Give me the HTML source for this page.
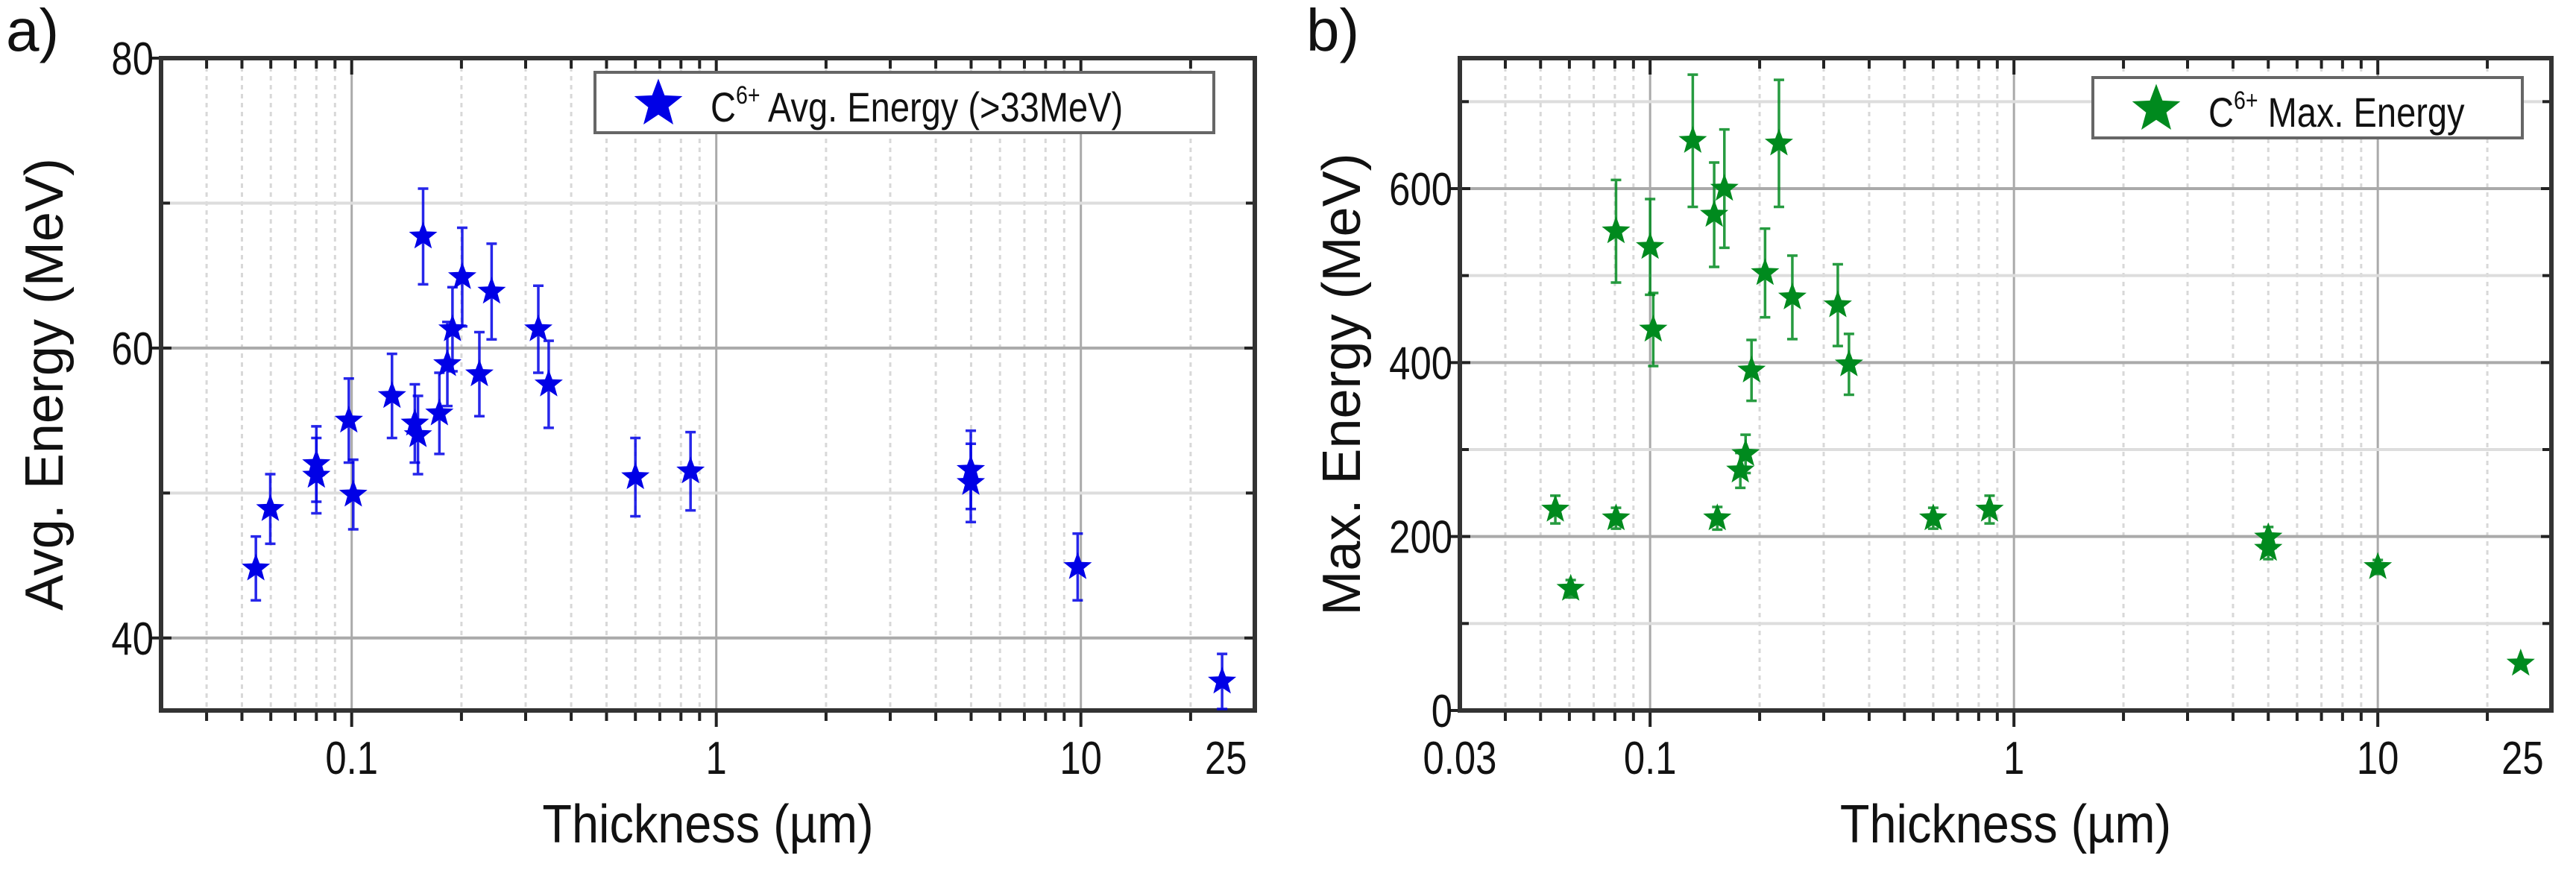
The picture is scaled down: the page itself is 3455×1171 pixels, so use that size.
<!DOCTYPE html>
<html><head><meta charset="utf-8">
<style>
html,body{margin:0;padding:0;background:#fff;}
svg{display:block;}
text{font-family:"Liberation Sans",Arial,sans-serif;fill:#111;}
</style></head>
<body>
<svg id="fig" width="3455" height="1171" viewBox="0 0 3455 1171" xmlns="http://www.w3.org/2000/svg"></svg>
<script>
// ---- Panel a data ----
const thickA = [0.0546,0.0598,0.08,0.08,0.0982,0.101,0.129,0.149,0.152,0.157,0.174,0.183,0.189,0.201,0.224,0.242,0.325,0.347,0.60,0.85,4.99,4.99,9.8,24.4];
const avgEnergy = [44.8,48.9,52.0,51.2,55.0,49.9,56.7,54.8,54.0,67.7,55.5,58.9,61.3,64.9,58.2,63.9,61.3,57.5,51.1,51.5,51.6,50.7,44.9,37.0];
const avgErr = [2.2,2.4,2.6,2.6,2.9,2.4,2.9,2.7,2.7,3.3,2.8,2.9,2.9,3.4,2.9,3.3,3.0,3.0,2.7,2.7,2.7,2.7,2.3,1.9];
const yTicksA = [40,60,80];
const yMinorA = [50,70];
// ---- Panel b data ----
const thickB = [0.0549,0.0605,0.0806,0.0806,0.1,0.102,0.131,0.150,0.153,0.160,0.177,0.183,0.190,0.207,0.226,0.246,0.328,0.352,0.60,0.857,5.0,5.0,10,24.7];
const maxEnergy = [231,140,551,221,533,438,655,570,221,600,276,295,391,503,652,475,466,398,221,231,199,186,165,54];
const maxErr = [16,10,59,12,55,42,76,60,13,68,20,22,35,51,73,48,47,35,12,16,12,12,8,4];
const yTicksB = [0,200,400,600];
const yMinorB = [100,300,500,700];
const xTicksA = [0.1,1,10,25];
const xTicksB = [0.03,0.1,1,10,25];

const NS="http://www.w3.org/2000/svg";
const svg=document.getElementById('fig');
function el(tag,attrs,parent){const e=document.createElementNS(NS,tag);for(const k in attrs)e.setAttribute(k,attrs[k]);(parent||svg).appendChild(e);return e;}
function starPath(cx,cy,r){let d='';for(let i=0;i<10;i++){const rr=i%2?r*0.42:r;const a=-Math.PI/2+i*Math.PI/5;d+=(i?'L':'M')+(cx+rr*Math.cos(a)).toFixed(1)+' '+(cy+rr*Math.sin(a)).toFixed(1);}return d+'Z';}

function panel(o){
  const g=el('g',{});
  
  
  const L=o.L,R=o.R,T=o.T,B=o.B;
  const xs=v=>L+(Math.log10(v)-Math.log10(0.03))/(Math.log10(30)-Math.log10(0.03))*(R-L);
  const ys=v=>B-(v-o.ymin)/(o.ymax-o.ymin)*(B-T);
  for(let dec=-2;dec<=1;dec++){for(let m=1;m<=9;m++){const v=m*Math.pow(10,dec);if(v<=0.03||v>=30)continue;const x=xs(v);
    const major=(m===1);
    const ln=el('line',{x1:x,x2:x,y1:T,y2:B,stroke:major?'#aaa':'#d8d8d8','stroke-width':3,'stroke-dasharray':major?'none':'6 6'},g);
    
    
    const tl=major?22:14;
    el('line',{x1:x,x2:x,y1:B,y2:B+tl,stroke:'#222','stroke-width':4},g);
    el('line',{x1:x,x2:x,y1:T,y2:T+tl,stroke:'#222','stroke-width':4},g);
  }}
  o.yMinor.forEach(v=>{const y=ys(v);const ln=el('line',{x1:L,x2:R,y1:y,y2:y,stroke:'#ddd','stroke-width':4},g);
    
    el('line',{x1:L,x2:L+12,y1:y,y2:y,stroke:'#222','stroke-width':4},g);el('line',{x1:R-12,x2:R,y1:y,y2:y,stroke:'#222','stroke-width':4},g);});
  o.yTicks.forEach(v=>{const y=ys(v);
    if(v!==o.ymin&&v!==o.ymax){const ln=el('line',{x1:L,x2:R,y1:y,y2:y,stroke:'#aaa','stroke-width':4},g);
      }
    el('line',{x1:L-14,x2:L+14,y1:y,y2:y,stroke:'#222','stroke-width':4},g);el('line',{x1:R-14,x2:R,y1:y,y2:y,stroke:'#222','stroke-width':4},g);
    const t=el('text',{x:L-10,y:y+22,'font-size':62,'text-anchor':'end',transform:`translate(${L-10},0) scale(0.82,1) translate(${-(L-10)},0)`},g);
    t.textContent=String(v);
    });
  o.xTicks.forEach(v=>{const x=xs(v);
    const t=el('text',{x:x,y:B+85,'font-size':62,'text-anchor':'middle',transform:`translate(${x},0) scale(0.82,1) translate(${-x},0)`},g);
    t.textContent=String(v);
    });
  const fr=el('rect',{x:L,y:T,width:R-L,height:B-T,fill:'none',stroke:'#333','stroke-width':6},g);
  
  for(let i=0;i<o.xv.length;i++){
    const x=xs(o.xv[i]),y=ys(o.yv[i]),yt=ys(o.yv[i]+o.ev[i]),yb=ys(o.yv[i]-o.ev[i]);
    const eb=el('path',{d:`M${x} ${yt}V${yb}M${x-7} ${yt}H${x+7}M${x-7} ${yb}H${x+7}`,stroke:o.color,'stroke-width':3.5,fill:'none',opacity:0.85},g);
    
    const s=el('path',{d:starPath(x,y,20),fill:o.color},g);
    
  }
  const lg=el('g',{},g);
  el('rect',{x:o.leg[0],y:o.leg[1],width:o.leg[2],height:o.leg[3],fill:'#fff',stroke:'#666','stroke-width':4},lg);
  const lsx=o.leg[0]+85,lsy=o.leg[1]+o.leg[3]/2+2;
  el('path',{d:starPath(lsx,lsy,34),fill:o.color},lg);
  const lt=el('text',{x:o.leg[0]+155,y:o.leg[1]+66,'font-size':56,transform:`translate(${o.leg[0]+155},0) scale(0.84,1) translate(${-(o.leg[0]+155)},0)`},lg);
  lt.innerHTML='C<tspan font-size="34" dy="-24">6+</tspan><tspan dy="24"> '+o.legText+'</tspan>';
  const xt=el('text',{x:(L+R)/2,y:1130,'font-size':72,'text-anchor':'middle',transform:`translate(${(L+R)/2},0) scale(0.9,1) translate(${-(L+R)/2},0)`},g);
  xt.textContent='Thickness (\u00b5m)';
  const cy=(T+B)/2;
  const yt2=el('text',{x:o.ytx,y:cy,'font-size':72,'text-anchor':'middle',transform:`rotate(-90 ${o.ytx} ${cy})`},g);
  yt2.textContent=o.ytitle;
  const pl=el('text',{x:o.lab[0],y:o.lab[1],'font-size':80},g);
  pl.textContent=o.labText;
}
panel({name:'panel-a',L:216,R:1683,T:78,B:953,ymin:35,ymax:80,yTicks:yTicksA,yMinor:yMinorA,xTicks:xTicksA,
  xv:thickA,yv:avgEnergy,ev:avgErr,color:'#0000e6',leg:[798,97,830,81],legText:'Avg. Energy (>33MeV)',
  ytitle:'Avg. Energy (MeV)',ytx:84,lab:[8,68],labText:'a)'});
panel({name:'panel-b',L:1958,R:3422,T:78,B:953,ymin:0,ymax:750,yTicks:yTicksB,yMinor:yMinorB,xTicks:xTicksB,
  xv:thickB,yv:maxEnergy,ev:maxErr,color:'#008a1e',leg:[2807,104,576,81],legText:'Max. Energy',
  ytitle:'Max. Energy (MeV)',ytx:1824,lab:[1752,68],labText:'b)'});
</script>
</body></html>
